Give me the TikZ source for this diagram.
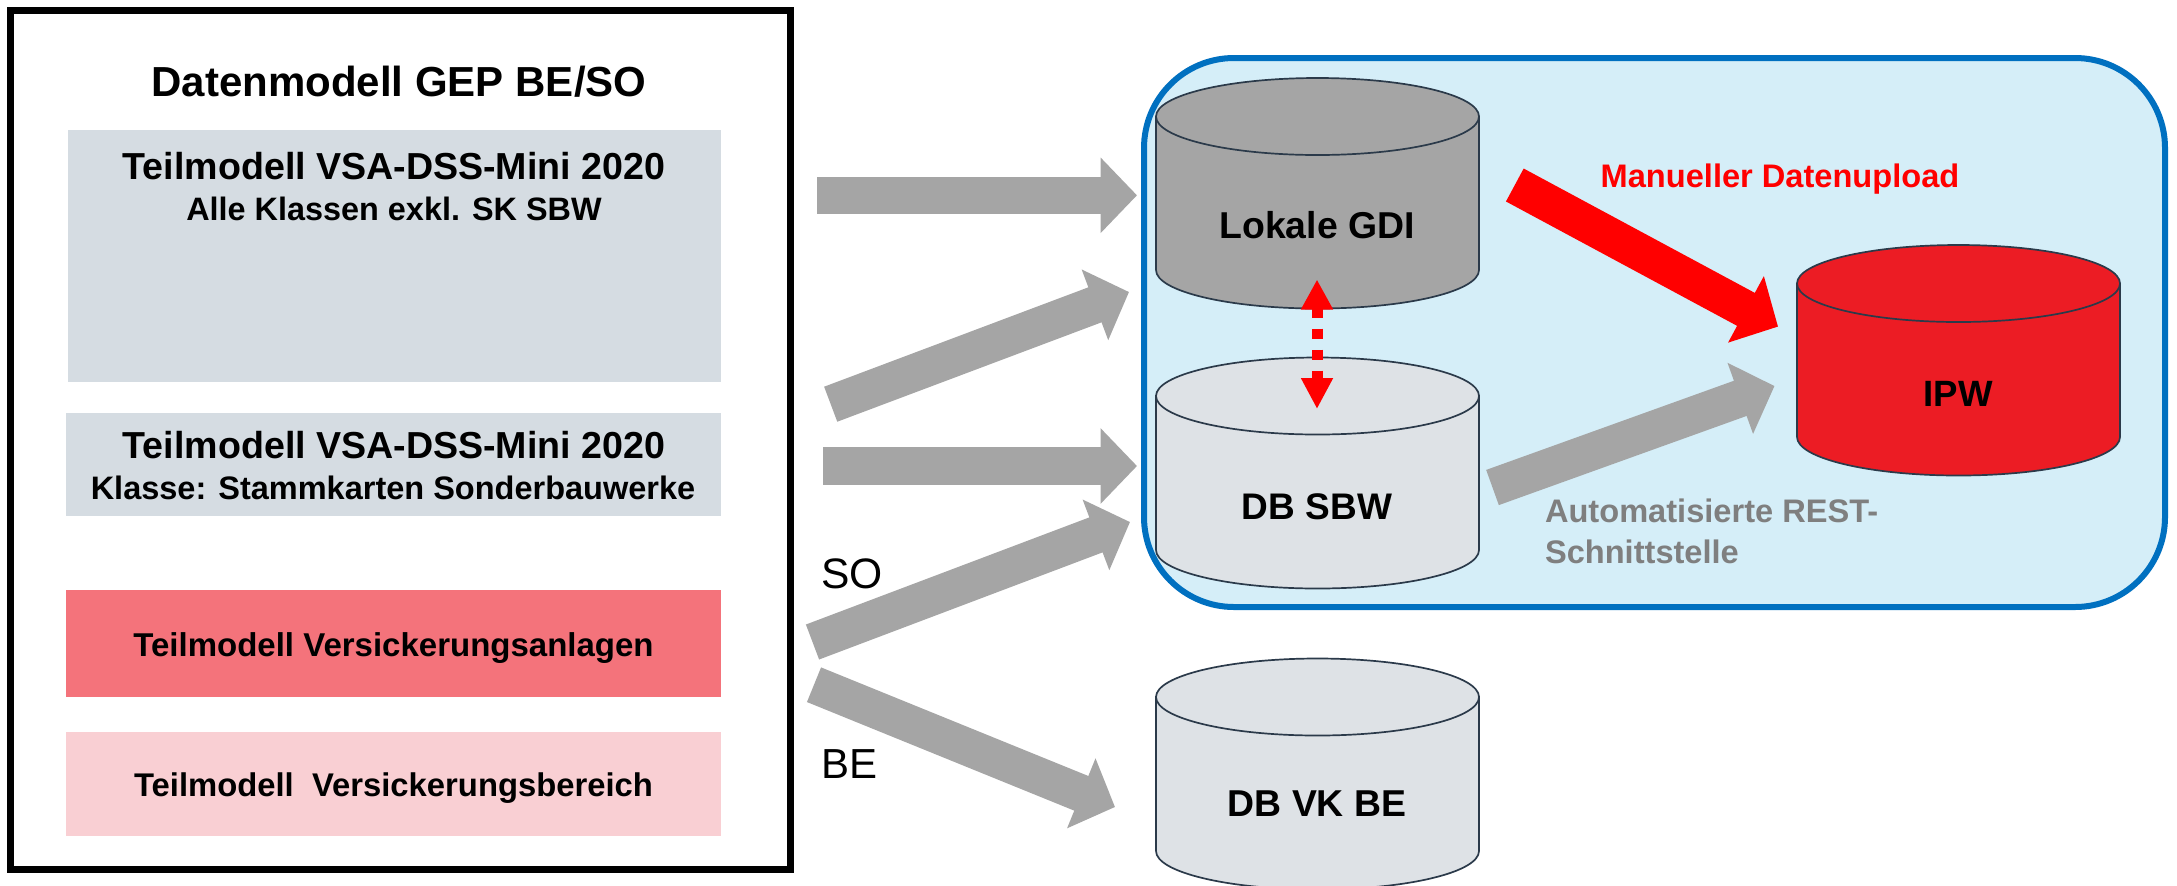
\documentclass[tikz,border=0pt]{standalone}
\usepackage{fontspec}
\setmainfont{Liberation Sans}
\usetikzlibrary{arrows.meta}
\definecolor{boxblue}{HTML}{D5DCE2}
\definecolor{boxred}{HTML}{F4737B}
\definecolor{boxpink}{HTML}{F9CFD3}
\definecolor{panelfill}{HTML}{D5EEF8}
\definecolor{panelline}{HTML}{0070C0}
\definecolor{dbline}{HTML}{2B3A4A}
\definecolor{dbgrey}{HTML}{A5A5A5}
\definecolor{dblight}{HTML}{DEE2E6}
\definecolor{dbred}{HTML}{EC1C24}
\definecolor{autogrey}{HTML}{7F7F7F}
\tikzset{
  modelbox/.style={inner sep=0pt,outer sep=0pt,anchor=north west},
  lbl/.style={inner sep=0pt,outer sep=0pt,anchor=base,font=\bfseries\fontsize{#1}{#1}\selectfont},
  lblplain/.style={inner sep=0pt,outer sep=0pt,anchor=base west,font=\fontsize{#1}{#1}\selectfont},
  blockarrow/.style={line width=18.7pt,draw=dbgrey,-{Triangle[length=18.2pt,width=36.7pt]}},
  cyl/.style={draw=dbline,line width=0.85pt,fill=#1},
}
\newcommand{\dbcyl}[4]{% cx, top centre y, bottom centre y, fill
  \path[cyl=#4] (#1-161.5,#2) -- (#1-161.5,#3)
     arc[start angle=180,end angle=0,x radius=161.5,y radius=38.5]
     -- (#1+161.5,#2) -- cycle;
  \path[cyl=#4] (#1,#2) ellipse[x radius=161.5,y radius=38.5];
}
\begin{document}
\begin{tikzpicture}[x=0.5pt,y=-0.5pt]
\clip (0,0) rectangle (2177,885);
\fill[white] (0,0) rectangle (2177,885);
% outer frame
\node[modelbox,draw=black,line width=3.5pt,minimum width=390pt,minimum height=429.5pt] (frame) at (10.5,10.5) {};
\node[lbl=21pt] (title) at (399,96) {Datenmodell GEP BE/SO};
% model boxes
\node[modelbox,fill=boxblue,minimum width=326.5pt,minimum height=126pt] (b1) at (68,130) {};
\node[modelbox,fill=boxblue,minimum width=327.5pt,minimum height=51.5pt] (b2) at (66,413) {};
\node[modelbox,fill=boxred,minimum width=327.5pt,minimum height=53.5pt] (b3) at (66,590) {};
\node[modelbox,fill=boxpink,minimum width=327.5pt,minimum height=52pt] (b4) at (66,732) {};
\node[lbl=18.8pt] (t1) at (394,179.5) {Teilmodell VSA-DSS-Mini 2020};
\node[lbl=16.2pt] (s1) at (394,220) {Alle Klassen exkl. SK SBW};
\node[lbl=18.8pt] (t2) at (394,458) {Teilmodell VSA-DSS-Mini 2020};
\node[lbl=16.25pt] (s2) at (393,499.5) {Klasse: Stammkarten Sonderbauwerke};
\node[lbl=16.5pt] (t3) at (393.5,656) {Teilmodell Versickerungsanlagen};
\node[lbl=16.4pt] (t4) at (393.5,796) {Teilmodell\ \ Versickerungsbereich};
% panel
\node[modelbox,draw=panelline,fill=panelfill,line width=3pt,rounded corners=45pt,minimum width=510.5pt,minimum height=274.5pt] (panel) at (1144,58) {};
% cylinders
\dbcyl{1317.5}{116.5}{270}{dbgrey}
\dbcyl{1317.5}{396}{550}{dblight}
\dbcyl{1958.5}{283.5}{437}{dbred}
\dbcyl{1317.5}{697}{851}{dblight}
\node[lbl=18.7pt] (gdi) at (1317,238) {Lokale GDI};
\node[lbl=18.5pt] (sbw) at (1317,519) {DB SBW};
\node[lbl=18.3pt] (ipw) at (1958,406.5) {IPW};
\node[lbl=18.7pt] (vk) at (1317,816) {DB VK BE};
% labels
\node[lbl=16.3pt,text=red] (man) at (1780,187.5) {Manueller Datenupload};
\node[lblplain=15pt,text=autogrey,font=\bfseries\fontsize{16.3pt}{16.3pt}\selectfont] (auto1) at (1545,522) {Automatisierte REST-};
\node[lblplain=15pt,text=autogrey,font=\bfseries\fontsize{16.3pt}{16.3pt}\selectfont] (auto2) at (1545,563) {Schnittstelle};
\node[lblplain=21.3pt] (so) at (821,588) {SO};
\node[lblplain=21pt] (be) at (821,778) {BE};
% block arrows
\coordinate (a1s) at (817,195.3);  \coordinate (a1e) at (1137,195.3);
\coordinate (a2s) at (830.7,404.2);\coordinate (a2e) at (1129,292);
\coordinate (a3s) at (823,466);    \coordinate (a3e) at (1137,466);
\coordinate (a4s) at (812.5,642);  \coordinate (a4e) at (1130,522);
\coordinate (a5s) at (814,684.7);  \coordinate (a5e) at (1115,807);
\coordinate (a6s) at (1492.5,487.5);\coordinate (a6e) at (1774.5,386);
\coordinate (a7s) at (1514.8,185); \coordinate (a7e) at (1778,326.6);
\draw[blockarrow] (a1s) -- (a1e);
\draw[blockarrow] (a2s) -- (a2e);
\draw[blockarrow] (a3s) -- (a3e);
\draw[blockarrow] (a4s) -- (a4e);
\draw[blockarrow] (a5s) -- (a5e);
\draw[blockarrow] (a6s) -- (a6e);
\draw[blockarrow,draw=red] (a7s) -- (a7e);
% dashed double arrow
\coordinate (d1) at (1317,279.5); \coordinate (d2) at (1317,409);
\draw[draw=red,line width=5.5pt,dash pattern=on 5.2pt off 5.3pt,{Triangle[length=15pt,width=15pt]}-{Triangle[length=15.5pt,width=15pt]}] (d1) -- (d2);
\end{tikzpicture}
\end{document}
